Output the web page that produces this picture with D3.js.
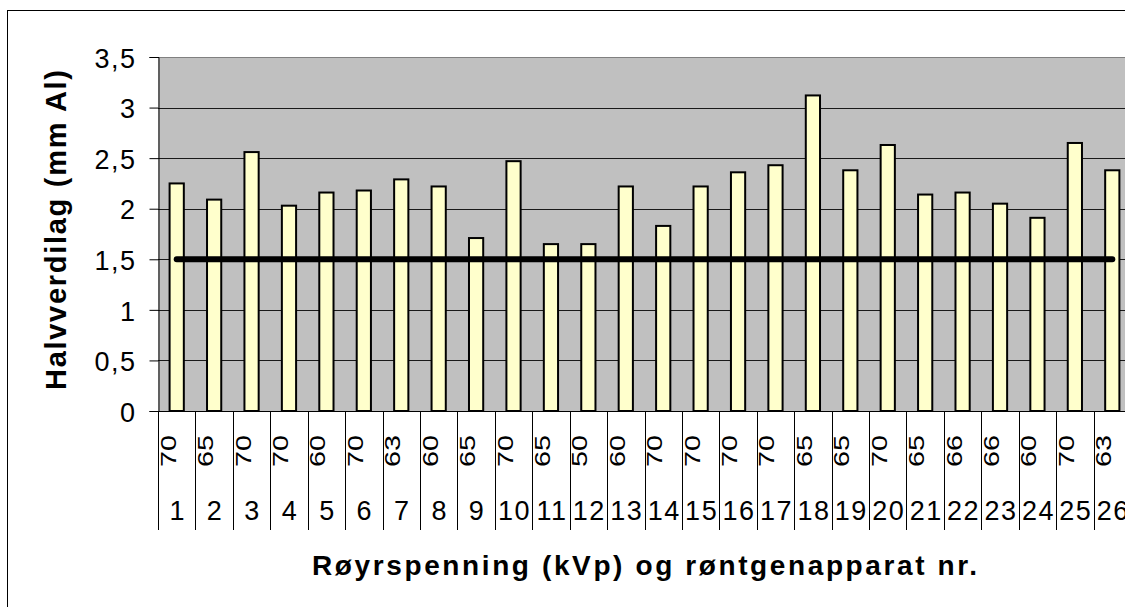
<!DOCTYPE html>
<html>
<head>
<meta charset="utf-8">
<script src="https://cdn.jsdelivr.net/npm/d3@7"></script>
<style>
  html, body { margin: 0; padding: 0; background: #fff; }
  svg { display: block; font-family: Arial, "Liberation Sans", sans-serif; }
</style>
</head>
<body>
<svg id="chart" width="1125" height="607"></svg>
<script>
// Røntgenapparat nr. (lower label row)
const apparat = ["1","2","3","4","5","6","7","8","9","10","11","12","13","14","15","16","17","18","19","20","21","22","23","24","25","26"];
// Røyrspenning brukt ved målinga, kVp (upper, rotated label row)
const kvp = [70,65,70,70,60,70,63,60,65,70,65,50,60,70,70,70,70,65,65,70,65,66,66,60,70,63];
// Målt halvverdilag, mm Al
const halvverdilag = [2.25,2.09,2.56,2.03,2.16,2.18,2.29,2.22,1.71,2.47,1.65,1.65,2.22,1.83,2.22,2.36,2.43,3.12,2.38,2.63,2.14,2.16,2.05,1.91,2.65,2.38];
// Minstekrav til halvverdilag, mm Al
const minstekrav = 1.5;
// Verdiaksen
const yTicks = [0,0.5,1,1.5,2,2.5,3,3.5];

const svg = d3.select("#chart");
const W = 1125, H = 607;

// plot area (runs past the right edge of the picture)
const plot = { left: 158, top: 57, right: 1131, bottom: 411 };

const nb = d3.formatLocale({ decimal: ",", thousands: " ", grouping: [3], currency: ["", " kr"] });
const fmt = nb.format("~g");

const x = d3.scaleBand()
  .domain(apparat)
  .range([plot.left, plot.right])
  .paddingInner(0.62)
  .paddingOuter(0.31);
const y = d3.scaleLinear().domain([0, 3.5]).range([plot.bottom, plot.top]);
const step = x.step();
const slotLeft = d => x(d) - x.paddingOuter() * step;
const center = d => x(d) + x.bandwidth() / 2;

// chart frame
svg.append("rect")
  .attr("x", 7.5).attr("y", 10.5)
  .attr("width", W + 20).attr("height", H + 20)
  .attr("fill", "#fff").attr("stroke", "#000").attr("stroke-width", 1);

// plot background
svg.append("rect")
  .attr("x", plot.left).attr("y", plot.top)
  .attr("width", plot.right - plot.left).attr("height", plot.bottom - plot.top)
  .attr("fill", "#c0c0c0");
svg.append("line")
  .attr("x1", plot.left).attr("x2", plot.right)
  .attr("y1", plot.top + 0.5).attr("y2", plot.top + 0.5)
  .attr("stroke", "#808080").attr("stroke-width", 1);

// horizontal gridlines
svg.append("g")
  .selectAll("line")
  .data(yTicks.filter(t => t > 0 && t < 3.5))
  .join("line")
  .attr("x1", plot.left).attr("x2", plot.right)
  .attr("y1", d => Math.round(y(d)) + 0.5).attr("y2", d => Math.round(y(d)) + 0.5)
  .attr("stroke", "#1a1a1a").attr("stroke-width", 1);

// y axis
const yAxis = d3.axisLeft(y).tickValues(yTicks).tickSize(9).tickPadding(13).tickFormat(fmt);
const gy = svg.append("g").attr("transform", `translate(${plot.left + 0.5},0)`).call(yAxis);
gy.select(".domain").attr("stroke", "#000");
gy.selectAll(".tick line").attr("stroke", "#000");
gy.selectAll(".tick text")
  .attr("font-size", 27)
  .attr("font-family", "Arial, 'Liberation Sans', sans-serif")
  .attr("fill", "#000")
  .attr("letter-spacing", "1.5px")
  .attr("dy", "0.38em");

// bars
svg.append("g")
  .selectAll("rect")
  .data(apparat)
  .join("rect")
  .attr("x", d => x(d))
  .attr("width", x.bandwidth())
  .attr("y", (d, i) => y(halvverdilag[i]))
  .attr("height", (d, i) => y(0) - y(halvverdilag[i]))
  .attr("fill", "#ffffcc")
  .attr("stroke", "#000")
  .attr("stroke-width", 2);

// minimum requirement line
const krav = d3.line()
  .x(d => center(d))
  .y(() => y(minstekrav));
svg.append("path")
  .datum(apparat)
  .attr("d", krav)
  .attr("fill", "none")
  .attr("stroke", "#000")
  .attr("stroke-width", 6)
  .attr("stroke-linecap", "round");

// category axis line
svg.append("line")
  .attr("x1", plot.left).attr("x2", plot.right)
  .attr("y1", plot.bottom + 0.5).attr("y2", plot.bottom + 0.5)
  .attr("stroke", "#000").attr("stroke-width", 1);

// dividers between category label cells
const labelBottom = 530;
const dividers = apparat.map(slotLeft).concat([plot.right]);
svg.append("g")
  .selectAll("line")
  .data(dividers)
  .join("line")
  .attr("x1", d => Math.round(d) + 0.5).attr("x2", d => Math.round(d) + 0.5)
  .attr("y1", plot.bottom).attr("y2", labelBottom)
  .attr("stroke", "#000").attr("stroke-width", 1);

// rotated kVp labels
svg.append("g")
  .selectAll("text")
  .data(apparat)
  .join("text")
  .attr("transform", d => `translate(${center(d) - 1},451) rotate(-90)`)
  .attr("text-anchor", "middle")
  .attr("font-size", 22)
  .attr("textLength", 32)
  .attr("lengthAdjust", "spacingAndGlyphs")
  .text((d, i) => kvp[i]);

// apparatus numbers
svg.append("g")
  .selectAll("text")
  .data(apparat)
  .join("text")
  .attr("x", d => center(d) + 1)
  .attr("y", 520)
  .attr("text-anchor", "middle")
  .attr("font-size", 27)
  .attr("letter-spacing", "1.5px")
  .text(d => d);

// axis titles
svg.append("text")
  .attr("transform", `translate(66,230) rotate(-90)`)
  .attr("text-anchor", "middle")
  .attr("font-size", 29)
  .attr("font-weight", "bold")
  .attr("textLength", 320)
  .attr("lengthAdjust", "spacing")
  .text("Halvverdilag (mm Al)");

svg.append("text")
  .attr("x", (plot.left + plot.right) / 2)
  .attr("y", 575)
  .attr("text-anchor", "middle")
  .attr("font-size", 28)
  .attr("font-weight", "bold")
  .attr("textLength", 665)
  .attr("lengthAdjust", "spacing")
  .text("Røyrspenning (kVp) og røntgenapparat nr.");
</script>
</body>
</html>
